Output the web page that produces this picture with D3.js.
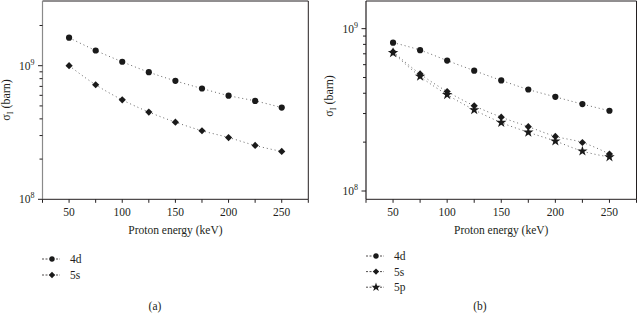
<!DOCTYPE html>
<html>
<head>
<meta charset="utf-8">
<script src="https://cdn.jsdelivr.net/npm/d3@7"></script>
<style>
  body { margin: 0; background: #fff; }
  text { font-family: "Liberation Serif", "DejaVu Serif", serif; fill: #231f20; }
</style>
</head>
<body>
<svg id="chart" width="637" height="315"></svg>
<script>
// energies (keV) shared by both panels
var energy = [50, 75, 100, 125, 150, 175, 200, 225, 250];
var xTicks = [50, 100, 150, 200, 250];
var xMinor = [25, 75, 125, 175, 225, 275];

// panel (a)
var a4d = [1.62e9, 1.30e9, 1.07e9, 8.95e8, 7.7e8, 6.75e8, 5.97e8, 5.45e8, 4.86e8];
var a5s = [1.0e9, 7.2e8, 5.55e8, 4.5e8, 3.78e8, 3.26e8, 2.9e8, 2.53e8, 2.28e8];

// panel (b)
var b4d = [8.2e8, 7.37e8, 6.36e8, 5.51e8, 4.8e8, 4.22e8, 3.8e8, 3.43e8, 3.12e8];
var b5s = [7.2e8, 5.26e8, 4.1e8, 3.35e8, 2.85e8, 2.49e8, 2.17e8, 1.99e8, 1.69e8];
var b5p = [7.1e8, 5.08e8, 3.92e8, 3.16e8, 2.64e8, 2.3e8, 2.03e8, 1.76e8, 1.62e8];

var ink = "#231f20";
var svg = d3.select("#chart");

var symbols = {
    circle: d3.symbol().type(d3.symbolCircle).size(30),
    diamond: d3.symbol().type(d3.symbolSquare).size(26),
    star: d3.symbol().type(d3.symbolStar).size(34)
};
var legendSymbols = {
    circle: d3.symbol().type(d3.symbolCircle).size(22),
    diamond: d3.symbol().type(d3.symbolSquare).size(20),
    star: d3.symbol().type(d3.symbolStar).size(26)
};

function drawPanel(p)
{
    var x = d3.scaleLinear().domain([25, 275]).range([p.x0, p.x1]);
    var y = d3.scaleLog().domain(p.yDomain).range([p.y0, p.y1]);
    var g = svg.append("g");

    // frame: top, right, bottom
    g.append("path")
        .attr("d", "M" + p.x0 + "," + p.y1 + "H" + p.x1 + "V" + p.y0 + "H" + p.x0)
        .attr("fill", "none").attr("stroke", ink).attr("stroke-width", 1);
    g.append("line")
        .attr("x1", p.x0).attr("x2", p.x0).attr("y1", p.y1).attr("y2", p.y0)
        .attr("stroke", p.yAxisColor).attr("stroke-width", 1.2);

    // x ticks
    g.selectAll(".xt").data(xTicks.concat(xMinor)).enter().append("line")
        .attr("x1", function(d) { return x(d); }).attr("x2", function(d) { return x(d); })
        .attr("y1", p.y0).attr("y2", p.y0 + 3.5)
        .attr("stroke", ink);
    g.selectAll(".xl").data(xTicks).enter().append("text")
        .attr("x", function(d) { return x(d); }).attr("y", p.y0 + 17)
        .attr("text-anchor", "middle").attr("font-size", 11.5)
        .text(function(d) { return d; });

    // y ticks
    g.selectAll(".yt").data(p.yMinor).enter().append("line")
        .attr("x1", p.x0 - 3).attr("x2", p.x0)
        .attr("y1", function(d) { return y(d); }).attr("y2", function(d) { return y(d); })
        .attr("stroke", ink);
    g.selectAll(".ym").data([1e8, 1e9]).enter().append("line")
        .attr("x1", p.x0 - 4.5).attr("x2", p.x0)
        .attr("y1", function(d) { return y(d); }).attr("y2", function(d) { return y(d); })
        .attr("stroke", ink);
    var yl = g.selectAll(".yl").data([1e8, 1e9]).enter().append("text")
        .attr("x", p.x0 - 8).attr("y", function(d) { return y(d) + 4; })
        .attr("text-anchor", "end").attr("font-size", 11.5);
    yl.append("tspan").text("10");
    yl.append("tspan").attr("dy", -5).attr("font-size", 8)
        .text(function(d) { return Math.round(Math.log10(d)); });

    // axis titles
    g.append("text")
        .attr("x", (p.x0 + p.x1) / 2).attr("y", p.y0 + 35)
        .attr("text-anchor", "middle").attr("font-size", 11.5)
        .text("Proton energy (keV)");
    var yt = g.append("text")
        .attr("transform", "translate(" + p.yTitleX + "," + p.yTitleY + ") rotate(-90)")
        .attr("text-anchor", "middle").attr("font-size", 12);
    yt.append("tspan").text("σ");
    yt.append("tspan").attr("dy", 3).attr("font-size", 8).text("I");
    yt.append("tspan").attr("dy", -3).text(" (barn)");

    var line = d3.line()
        .x(function(d, i) { return x(energy[i]); })
        .y(function(d) { return y(d); })
        .curve(d3.curveMonotoneX);

    p.series.forEach(function(s, k) {
        g.append("path").datum(s.values)
            .attr("d", line)
            .attr("fill", "none").attr("stroke", "#666")
            .attr("stroke-width", 1).attr("stroke-dasharray", "1,3");
        g.selectAll(".m" + k).data(s.values).enter().append("path")
            .attr("transform", function(d, i) {
                return "translate(" + x(energy[i]) + "," + y(d) + ")" + (s.shape === "diamond" ? " rotate(45)" : "");
            })
            .attr("d", symbols[s.shape])
            .attr("fill", "#1a1a1a");

        // legend entry
        var ly = p.legendY + k * p.legendStep;
        g.append("line")
            .attr("x1", p.legendX).attr("x2", p.legendX + 18)
            .attr("y1", ly).attr("y2", ly)
            .attr("stroke", ink).attr("stroke-width", 0.8).attr("stroke-dasharray", "2,1.5");
        g.append("path")
            .attr("transform", "translate(" + (p.legendX + 10) + "," + ly + ")" + (s.shape === "diamond" ? " rotate(45)" : ""))
            .attr("d", legendSymbols[s.shape])
            .attr("fill", "#1a1a1a");
        g.append("text")
            .attr("x", p.legendX + 28).attr("y", ly + 4)
            .attr("font-size", 11.5)
            .text(s.name);
    });

    g.append("text")
        .attr("x", p.captionX).attr("y", 310)
        .attr("text-anchor", "middle").attr("font-size", 11.5)
        .text(p.caption);
}

drawPanel({
    x0: 42.5, x1: 308.3, y0: 199.3, y1: 1,
    yDomain: [1e8, 3.05e9],
    yMinor: [2e8, 3e8, 4e8, 5e8, 6e8, 7e8, 8e8, 9e8, 2e9],
    yAxisColor: "#8a8a8a",
    yTitleX: 10, yTitleY: 100,
    series: [
        { name: "4d", shape: "circle", values: a4d },
        { name: "5s", shape: "diamond", values: a5s }
    ],
    legendX: 42, legendY: 259, legendStep: 16,
    caption: "(a)", captionX: 155
});

drawPanel({
    x0: 366, x1: 636.5, y0: 199.3, y1: 1,
    yDomain: [8.89e7, 1.48e9],
    yMinor: [2e8, 3e8, 4e8, 5e8, 6e8, 7e8, 8e8, 9e8],
    yAxisColor: ink,
    yTitleX: 333, yTitleY: 96,
    series: [
        { name: "4d", shape: "circle", values: b4d },
        { name: "5s", shape: "diamond", values: b5s },
        { name: "5p", shape: "star", values: b5p }
    ],
    legendX: 366, legendY: 256, legendStep: 15.6,
    caption: "(b)", captionX: 480
});
</script>
</body>
</html>
